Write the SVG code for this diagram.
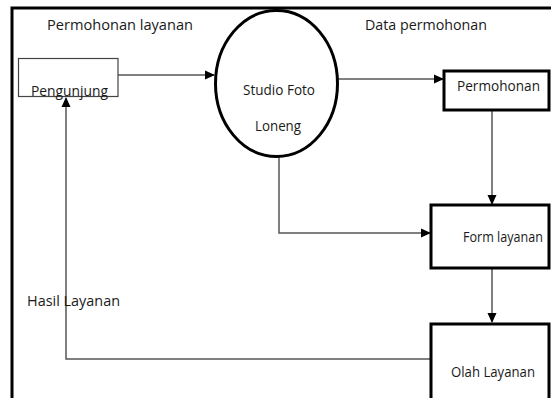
<svg xmlns="http://www.w3.org/2000/svg" width="551" height="398" viewBox="0 0 551 398">
<style>
text{font-family:"Open Sans","Liberation Sans",sans-serif;font-size:14.5px;fill:#1a1a1a}
.conn{fill:none;stroke:#555;stroke-width:1.5}
.box{fill:#fff;stroke:#000;stroke-width:3}
</style>
<defs>
<marker id="ah" markerWidth="10" markerHeight="10" refX="9" refY="5" orient="auto" markerUnits="userSpaceOnUse">
<path d="M0,0.5 L10,5 L0,9.5 Z" fill="#000"/>
</marker>
</defs>
<rect width="551" height="398" fill="#fff"/>
<path d="M12,398 V8 H551" fill="none" stroke="#000" stroke-width="3"/>
<g id="connectors">
<path class="conn" d="M118,75 H214" marker-end="url(#ah)"/>
<path class="conn" d="M338,79 H443" marker-end="url(#ah)"/>
<path class="conn" d="M492,110 V204" marker-end="url(#ah)"/>
<path class="conn" d="M279,157 V233 H430" marker-end="url(#ah)"/>
<path class="conn" d="M492,268 V322" marker-end="url(#ah)"/>
<path class="conn" d="M431,359 H66 V98" marker-end="url(#ah)"/>
</g>
<g id="labels">
<text x="47" y="30" textLength="146" lengthAdjust="spacingAndGlyphs">Permohonan layanan</text>
<text x="365" y="30" textLength="122" lengthAdjust="spacingAndGlyphs">Data permohonan</text>
<text x="27" y="306" textLength="93" lengthAdjust="spacingAndGlyphs">Hasil Layanan</text>
</g>
<g id="pengunjung">
<rect x="18.5" y="58.5" width="99.5" height="38" fill="#fff" stroke="#444" stroke-width="1.2"/>
<text x="31" y="96" textLength="77" lengthAdjust="spacingAndGlyphs">Pengunjung</text>
</g>
<g id="studio">
<ellipse cx="276.5" cy="83.5" rx="61" ry="73" fill="#fff" stroke="#000" stroke-width="3"/>
<text x="243" y="95" textLength="72" lengthAdjust="spacingAndGlyphs">Studio Foto</text>
<text x="255" y="131" textLength="46" lengthAdjust="spacingAndGlyphs">Loneng</text>
</g>
<g id="permohonan">
<rect class="box" x="444" y="71" width="105" height="39"/>
<text x="457" y="91" textLength="83" lengthAdjust="spacingAndGlyphs">Permohonan</text>
</g>
<g id="form">
<rect class="box" x="431" y="205" width="118" height="63"/>
<text x="463" y="242" textLength="80" lengthAdjust="spacingAndGlyphs">Form layanan</text>
</g>
<g id="olah">
<rect class="box" x="431" y="324" width="118" height="76"/>
<text x="451" y="377" textLength="84" lengthAdjust="spacingAndGlyphs">Olah Layanan</text>
</g>
</svg>
